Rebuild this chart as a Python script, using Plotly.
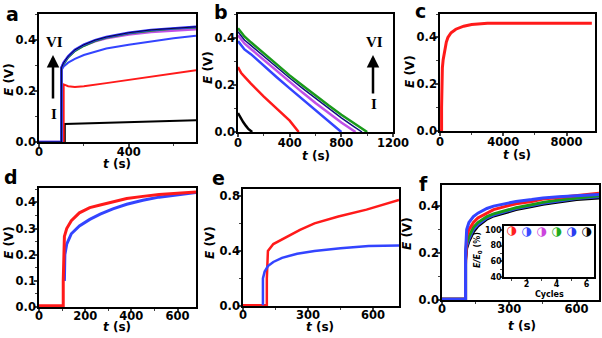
import plotly.graph_objects as go

W, H = 602, 338

# ---- panel a: charging curves I..VI
a_t_top = [0, 100, 100, 110, 130, 160, 200, 250, 300, 400, 500, 600, 700]
a_vi = [0, 0, 0.29, 0.31, 0.335, 0.36, 0.38, 0.398, 0.41, 0.427, 0.438, 0.445, 0.45]
a_v = [0, 0, 0.29, 0.305, 0.33, 0.355, 0.375, 0.394, 0.407, 0.424, 0.435, 0.442, 0.447]
a_iv = [0, 0, 0.29, 0.31, 0.333, 0.357, 0.377, 0.393, 0.405, 0.42, 0.43, 0.436, 0.44]
a_iii = [0, 0, 0.28, 0.295, 0.31, 0.325, 0.34, 0.353, 0.365, 0.38, 0.393, 0.405, 0.415]
a_t_red = [0, 110, 110, 130, 160, 200, 300, 400, 500, 600, 700]
a_ii = [0, 0, 0.225, 0.218, 0.215, 0.218, 0.23, 0.243, 0.256, 0.268, 0.28]
a_t_blk = [0, 115, 115, 300, 500, 700]
a_i = [0, 0, 0.07, 0.075, 0.08, 0.085]

# ---- panel b: discharge curves
b_t_i = [0, 20, 40, 60, 80, 110]
b_i = [0.08, 0.06, 0.042, 0.027, 0.013, 0]
b_t_ii = [0, 25, 50, 100, 200, 300, 400, 470]
b_ii = [0.275, 0.25, 0.235, 0.205, 0.15, 0.098, 0.048, 0]
b_t_iii = [0, 25, 50, 100, 200, 300, 400, 500, 600, 700, 800]
b_iii = [0.385, 0.365, 0.35, 0.33, 0.28, 0.232, 0.185, 0.138, 0.092, 0.046, 0]
b_t_iv = [0, 25, 50, 100, 200, 300, 400, 500, 600, 700, 800, 910]
b_iv = [0.41, 0.39, 0.375, 0.352, 0.305, 0.258, 0.212, 0.167, 0.123, 0.08, 0.04, 0]
b_t_v = [0, 25, 50, 100, 200, 300, 400, 500, 600, 700, 800, 900, 960]
b_v = [0.425, 0.405, 0.39, 0.367, 0.32, 0.274, 0.229, 0.185, 0.142, 0.1, 0.06, 0.022, 0]
b_t_vi = [0, 25, 50, 100, 200, 300, 400, 500, 600, 700, 800, 900, 1000]
b_vi = [0.44, 0.42, 0.405, 0.38, 0.332, 0.286, 0.24, 0.197, 0.154, 0.113, 0.073, 0.035, 0]

# ---- panel c: long charging
c_t = [0, 100, 100, 120, 150, 200, 300, 400, 500, 700, 1000, 1500, 2000, 3000, 5000, 7000, 9600]
c_e = [0, 0, 0.1, 0.22, 0.27, 0.305, 0.35, 0.38, 0.4, 0.42, 0.435, 0.448, 0.455, 0.46, 0.46, 0.46, 0.46]

# ---- panel d
d_t_red = [0, 105, 105, 110, 120, 140, 175, 220, 265, 320, 380, 450, 520, 600, 680]
d_red = [0.005, 0.005, 0.1, 0.27, 0.3, 0.33, 0.36, 0.38, 0.39, 0.403, 0.415, 0.423, 0.43, 0.435, 0.44]
d_t_blue = [110, 112, 120, 140, 175, 220, 265, 320, 380, 450, 520, 600, 680]
d_blue = [0.1, 0.2, 0.24, 0.28, 0.31, 0.335, 0.355, 0.375, 0.393, 0.408, 0.42, 0.43, 0.438]

# ---- panel e
e_t_red = [0, 110, 110, 115, 140, 200, 263, 330, 440, 570, 660, 720]
e_red = [0.005, 0.005, 0.2, 0.4, 0.45, 0.5, 0.553, 0.6, 0.65, 0.7, 0.74, 0.77]
e_t_blue = [92, 92, 100, 115, 140, 180, 250, 330, 450, 580, 720]
e_blue = [0.005, 0.2, 0.25, 0.29, 0.32, 0.35, 0.38, 0.4, 0.42, 0.435, 0.44]

# ---- panel f: cycles
f_t = [0, 105, 105, 110, 120, 140, 160, 200, 230, 280, 330, 400, 450, 520, 600, 700]
f_black = [0.003, 0.003, 0.17, 0.22, 0.25, 0.29, 0.315, 0.345, 0.358, 0.372, 0.385, 0.398, 0.408, 0.418, 0.428, 0.435]
f_blue2 = [0.003, 0.003, 0.18, 0.23, 0.26, 0.3, 0.322, 0.35, 0.362, 0.376, 0.39, 0.402, 0.412, 0.422, 0.432, 0.44]
f_green = [0.003, 0.003, 0.2, 0.24, 0.27, 0.31, 0.33, 0.355, 0.367, 0.38, 0.393, 0.406, 0.416, 0.426, 0.435, 0.444]
f_red = [0.003, 0.003, 0.15, 0.27, 0.3, 0.33, 0.35, 0.372, 0.385, 0.398, 0.41, 0.42, 0.43, 0.437, 0.445, 0.455]
f_blue = [0.003, 0.003, 0.2, 0.3, 0.33, 0.355, 0.37, 0.39, 0.4, 0.41, 0.42, 0.428, 0.435, 0.44, 0.445, 0.45]

# inset
cycles = [1, 2, 3, 4, 5, 6]
ratio = [99, 98, 98, 98, 98, 98]
ratio_colors = ['#ff2020', '#3a4cff', '#cc44dd', '#1faa1f', '#2a3cf0', '#000000']

RED, BLUE, MAG, GREEN, NAVY, BLACK = '#ff1a1a', '#3344ff', '#c050e8', '#1a9a1a', '#101080', '#000000'
FONT = 'DejaVu Sans'


def px(x0, x1):
    return [x0 / W, x1 / W]


def py(y0, y1):
    return [1 - y1 / H, 1 - y0 / H]


def axis(domain, rng, dtick, minor, anchor, fmt=None, size=11.5, standoff=-5):
    d = dict(domain=domain, range=rng, dtick=dtick, tick0=0, anchor=anchor, automargin=False,
             showline=True, linecolor='black', linewidth=1.5, mirror=True,
             ticks='outside', ticklen=3, tickwidth=1.5, showgrid=False, zeroline=False,
             ticklabelstandoff=standoff,
             tickfont=dict(family=FONT, size=size, color='black', weight='bold'),
             minor=dict(dtick=minor, ticks='outside', ticklen=2, tickwidth=1.2, showgrid=False))
    if fmt:
        d['tickformat'] = fmt
    return d


fig = go.Figure()


def line(x, y, color, ax, width=2):
    fig.add_trace(go.Scatter(x=x, y=y, mode='lines', line=dict(color=color, width=width),
                             xaxis='x' + ax, yaxis='y' + ax, showlegend=False))


# a
line(a_t_blk, a_i, BLACK, '', 2)
line(a_t_red, a_ii, RED, '', 2)
line(a_t_top, a_iii, BLUE, '', 2)
line(a_t_top, a_iv, MAG, '', 2.5)
line(a_t_top, a_v, GREEN, '', 2)
line(a_t_top, a_vi, '#2a2aff', '', 2.5)
line(a_t_top, a_vi, BLACK, '', 0.8)
# b
line(b_t_i, b_i, BLACK, '2', 2.5)
line(b_t_ii, b_ii, RED, '2', 2.5)
line(b_t_iii, b_iii, BLUE, '2', 2.5)
line(b_t_iv, b_iv, MAG, '2', 2.5)
line(b_t_v, b_v, NAVY, '2', 1.5)
line(b_t_vi, b_vi, GREEN, '2', 2.5)
# c
line(c_t, c_e, RED, '3', 3)
# d
line(d_t_blue, d_blue, BLUE, '4', 3)
line(d_t_red, d_red, RED, '4', 3)
# e
line(e_t_red, e_red, RED, '5', 2.5)
line(e_t_blue, e_blue, BLUE, '5', 2.5)
# f
line(f_t, f_black, BLACK, '6', 3)
line(f_t, f_blue2, BLUE, '6', 3)
line(f_t, f_green, GREEN, '6', 3)
line(f_t, f_red, RED, '6', 3)
line(f_t, f_blue, BLUE, '6', 3)
# inset markers (half-filled circles)
fig.add_trace(go.Scatter(x=cycles, y=ratio, mode='text', text=['◑'] * len(cycles),
                         textfont=dict(family=FONT, size=12, color=ratio_colors),
                         xaxis='x7', yaxis='y7', showlegend=False))

fig.update_layout(
    width=W, height=H, margin=dict(l=0, r=0, t=0, b=0),
    plot_bgcolor='white', paper_bgcolor='white',
    xaxis=axis(px(39, 196), [0, 700], 400, 200, 'y'),
    yaxis=axis(py(14, 142), [0, 0.5], 0.2, 0.1, 'x', '.1f', standoff=-4),
    xaxis2=axis(px(238, 393), [0, 1200], 400, 200, 'y2', standoff=-4),
    yaxis2=axis(py(14, 132), [0, 0.5], 0.2, 0.1, 'x2', '.1f', standoff=-4),
    xaxis3=axis(px(440, 595), [0, 9800], 4000, 2000, 'y3', 'd', standoff=-4),
    yaxis3=axis(py(14, 131), [0, 0.5], 0.2, 0.1, 'x3', '.1f', standoff=-4),
    xaxis4=axis(px(39, 196), [0, 680], 200, 100, 'y4', standoff=-6),
    yaxis4=axis(py(188, 307), [0, 0.455], 0.1, 0.05, 'x4', '.1f', standoff=-4),
    xaxis5=axis(px(243, 399), [0, 720], 300, 150, 'y5', standoff=-6),
    yaxis5=axis(py(189, 306), [0, 0.85], 0.4, 0.2, 'x5', '.1f', standoff=-4),
    xaxis6=axis(px(442, 599), [0, 700], 300, 150, 'y6', standoff=-6),
    yaxis6=axis(py(185, 300), [0, 0.49], 0.2, 0.1, 'x6', '.1f', standoff=-4),
    xaxis7=axis(px(504, 594), [0.5, 6.5], 2, 1, 'y7', size=8, standoff=-3),
    yaxis7=axis(py(226, 277), [40, 105], 20, 10, 'x7', size=8, standoff=-3),
)
fig.update_xaxes(ticklen=2, selector=dict(anchor='y7'))
fig.update_yaxes(ticklen=2, selector=dict(anchor='x7'))


def note(text, x, y, font, angle=0):
    fig.add_annotation(x=x / W, y=1 - y / H, xref='paper', yref='paper', text=text,
                       textangle=angle, showarrow=False, font=font,
                       xanchor='center', yanchor='middle')


TITLE = dict(family=FONT, size=12, color='black', weight='bold')
ET = '<i>E</i> (V)'
TT = '<i>t</i> (s)'
# axis titles: (text, x, y, angle)
titles = [(ET, 9, 80, -90), (TT, 117, 164, 0),
          (ET, 208, 68, -90), (TT, 316, 156, 0),
          (ET, 410, 72, -90), (TT, 517, 155, 0),
          (ET, 9, 243, -90), (TT, 117, 327, 0),
          (ET, 210, 243, -90), (TT, 320, 327, 0),
          (ET, 407, 234, -90), (TT, 522, 326, 0)]
for text, x, y, ang in titles:
    note(text, x, y, TITLE, ang)
SMALL = dict(family=FONT, size=8, color='black', weight='bold')
note('<i>E/E</i><sub>0</sub> (%)', 478, 250, SMALL, -90)
note('Cycles', 549, 294, SMALL)

# panel letters
LETTER = dict(family=FONT, size=19, color='black', weight='bold')
for letter, x, y in [('a', 12, 14), ('b', 221, 12), ('c', 420, 11),
                     ('d', 11, 177), ('e', 218, 178), ('f', 423, 184)]:
    note(letter, x, y, LETTER)

# I -> VI arrows
SERIF = dict(family='Liberation Serif', size=15, color='black', weight='bold')
for xa, yvi, yi, ytip, ytail in [(54, 42, 114, 55, 100), (374, 42, 104, 55, 95)]:
    note('VI', xa, yvi, SERIF)
    note('I', xa, yi, SERIF)
    fig.add_annotation(x=(xa - 1) / W, y=1 - ytip / H, xref='paper', yref='paper', text='',
                       showarrow=True, ax=0, ay=ytail - ytip, arrowhead=2, arrowsize=1,
                       arrowwidth=2.5, arrowcolor='black')

fig.write_html("out.html", config={'displayModeBar': False},
               post_script="document.body.style.margin='0px';")
